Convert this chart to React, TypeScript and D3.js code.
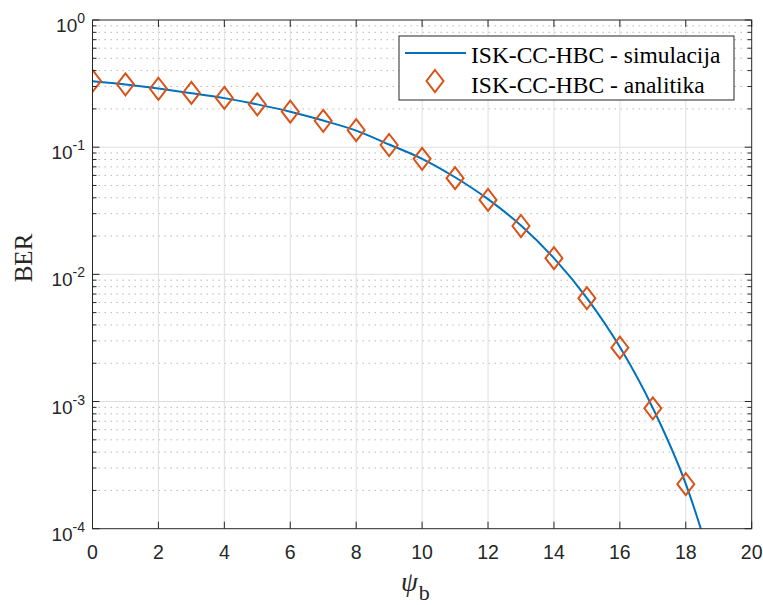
import React from "react";
import * as d3 from "d3";

const xValues = [0, 1, 2, 3, 4, 5, 6, 7, 8, 9, 10, 11, 12, 13, 14, 15, 16, 17, 18, 19];
const simBER = [0.330, 0.311, 0.289, 0.266, 0.243, 0.217, 0.190, 0.162, 0.135, 0.105, 0.081, 0.058, 0.039, 0.0242, 0.0134, 0.0065, 0.00268, 0.00089, 0.000225, 0.000035];
const anaX = [0, 1, 2, 3, 4, 5, 6, 7, 8, 9, 10, 11, 12, 13, 14, 15, 16, 17, 18];
const anaBER = [0.332, 0.312, 0.288, 0.267, 0.244, 0.217, 0.190, 0.161, 0.136, 0.104, 0.081, 0.057, 0.0385, 0.024, 0.0134, 0.0065, 0.00265, 0.000885, 0.000224];
const xTicks = [0, 2, 4, 6, 8, 10, 12, 14, 16, 18, 20];
const yExponents = [0, -1, -2, -3, -4];
const legendLabels = ["ISK-CC-HBC - simulacija", "ISK-CC-HBC - analitika"];

const W = 763, H = 605;
const L = 92.5, R = 751.7, T = 20, B = 528.7;
const axisColor = "#262626";
const blue = "#0072BD";
const orange = "#D95319";
const sansFont = "'Liberation Sans', Arial, sans-serif";
const serifFont = "'Liberation Serif', 'Times New Roman', serif";

export default function App() {
  const x = d3.scaleLinear().domain([0, 20]).range([L, R]);
  const y = d3.scaleLog().domain([1e-4, 1]).range([B, T]);

  const minorVals: number[] = [];
  for (let e = -4; e < 0; e++) {
    for (let k = 2; k <= 9; k++) minorVals.push(k * Math.pow(10, e));
  }

  const line = d3
    .line<number>()
    .x((_, i) => x(xValues[i]))
    .y((d) => y(d))
    .curve(d3.curveMonotoneX);

  const diamond = (cx: number, cy: number, hw = 8.5, hh = 11) =>
    `M${cx},${cy - hh}L${cx + hw},${cy}L${cx},${cy + hh}L${cx - hw},${cy}Z`;

  return (
    <svg width={W} height={H} style={{ position: "absolute", left: 0, top: 0, background: "#fff" }}>
      <defs>
        <clipPath id="plotClip">
          <rect x={L} y={T} width={R - L} height={B - T} />
        </clipPath>
      </defs>
      <rect x={L} y={T} width={R - L} height={B - T} fill="#fff" />
      {minorVals.map((v, i) => (
        <line key={"mg" + i} x1={L} x2={R} y1={y(v)} y2={y(v)} stroke="#b8b8b8" strokeWidth={1} strokeDasharray="1.5,4.5" />
      ))}
      {xTicks.slice(1, -1).map((t) => (
        <line key={"gx" + t} x1={x(t)} x2={x(t)} y1={T} y2={B} stroke="#dfdfdf" strokeWidth={1} />
      ))}
      {yExponents.slice(1, -1).map((e) => (
        <line key={"gy" + e} x1={L} x2={R} y1={y(Math.pow(10, e))} y2={y(Math.pow(10, e))} stroke="#dfdfdf" strokeWidth={1} />
      ))}
      <g clipPath="url(#plotClip)">
        <path d={line(simBER) || ""} fill="none" stroke={blue} strokeWidth={2} />
        {anaBER.map((v, i) => (
          <path key={"m" + i} d={diamond(x(anaX[i]), y(v))} fill="none" stroke={orange} strokeWidth={2} />
        ))}
      </g>
      <rect x={L} y={T} width={R - L} height={B - T} fill="none" stroke={axisColor} strokeWidth={1} />
      {xTicks.map((t) => (
        <g key={"xt" + t}>
          <line x1={x(t)} x2={x(t)} y1={B} y2={B - 7} stroke={axisColor} />
          <line x1={x(t)} x2={x(t)} y1={T} y2={T + 7} stroke={axisColor} />
          <text x={x(t)} y={558.5} textAnchor="middle" fontFamily={sansFont} fontSize={19.5} fill={axisColor}>
            {t}
          </text>
        </g>
      ))}
      {yExponents.map((e) => {
        const yy = y(Math.pow(10, e));
        return (
          <g key={"yt" + e}>
            <line x1={L} x2={L + 7} y1={yy} y2={yy} stroke={axisColor} />
            <line x1={R} x2={R - 7} y1={yy} y2={yy} stroke={axisColor} />
            <text x={85} y={yy + 12} textAnchor="end" fontFamily={sansFont} fontSize={19} fill={axisColor}>
              10
              <tspan dy={-9} fontSize={14}>{String(e)}</tspan>
            </text>
          </g>
        );
      })}
      {minorVals.map((v, i) => (
        <g key={"ymt" + i}>
          <line x1={L} x2={L + 4} y1={y(v)} y2={y(v)} stroke={axisColor} />
          <line x1={R} x2={R - 4} y1={y(v)} y2={y(v)} stroke={axisColor} />
        </g>
      ))}
      <text transform={`translate(32,258) rotate(-90)`} textAnchor="middle" fontFamily={serifFont} fontSize={25} fill={axisColor}>
        BER
      </text>
      <text x={401} y={591} fontFamily={serifFont} fontSize={27} fill={axisColor}>
        <tspan fontStyle="italic">ψ</tspan>
        <tspan dx={1} dy={9} fontSize={22}>b</tspan>
      </text>
      <rect x={399} y={36} width={335} height={64} fill="#fff" stroke={axisColor} strokeWidth={1} />
      <line x1={405} x2={466} y1={53} y2={53} stroke={blue} strokeWidth={2} />
      <path d={diamond(435, 81)} fill="none" stroke={orange} strokeWidth={2} />
      <text x={471} y={63} fontFamily={serifFont} fontSize={23.5} fill="#000">
        {legendLabels[0]}
      </text>
      <text x={471} y={92.5} fontFamily={serifFont} fontSize={23.5} fill="#000">
        {legendLabels[1]}
      </text>
    </svg>
  );
}
